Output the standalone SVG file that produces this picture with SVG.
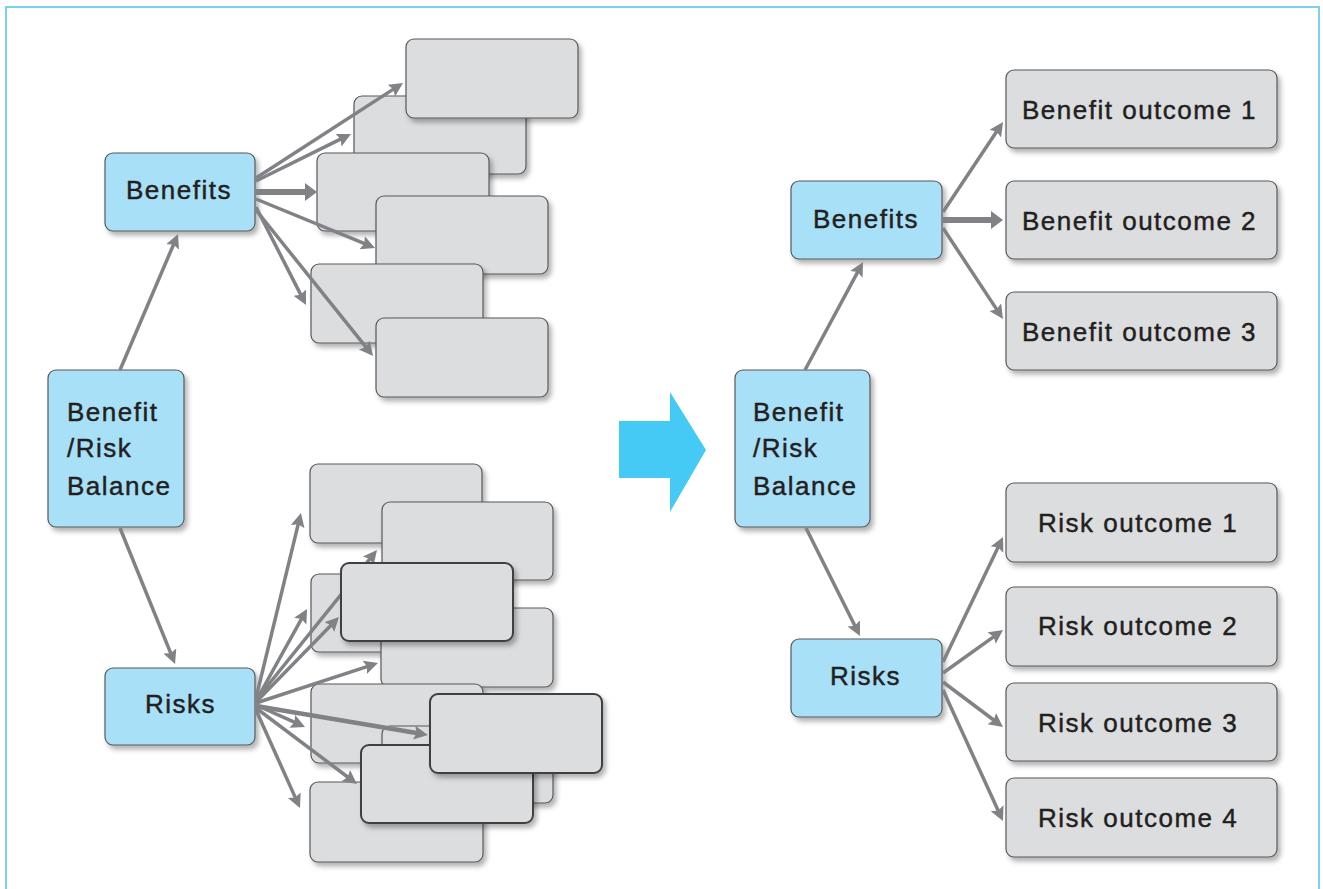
<svg xmlns="http://www.w3.org/2000/svg" width="1323" height="889" viewBox="0 0 1323 889">
<defs>
<filter id="sh" x="-10%" y="-10%" width="130%" height="140%">
<feDropShadow dx="3" dy="4" stdDeviation="2.5" flood-color="#000" flood-opacity="0.3"/>
</filter>
<marker id="ah" markerUnits="userSpaceOnUse" markerWidth="16" markerHeight="16" viewBox="0 0 16 16" refX="4" refY="7" orient="auto">
<path d="M0,0 L14,7 L0,14 L2.5,7 Z" fill="#808285"/>
</marker>
<marker id="ahT" markerUnits="userSpaceOnUse" markerWidth="14" markerHeight="20" viewBox="0 0 14 20" refX="2" refY="9" orient="auto">
<path d="M0,0 L12,9 L0,18 Z" fill="#808285"/>
</marker>
</defs>
<style>
.frame{fill:none;stroke:#4cc4ee;stroke-width:1.5}
.blue{fill:#a8e0f8;stroke:#58595b;stroke-width:1.2;filter:url(#sh)}
.gray{fill:#dcdddf;stroke:#58595b;stroke-width:1.2;filter:url(#sh)}
.front{fill:#dcdddf;stroke:#404042;stroke-width:2;filter:url(#sh)}
.c{stroke:#808285;stroke-width:3.5;fill:none;marker-end:url(#ah)}
.ct{stroke:#808285;stroke-width:6;fill:none;marker-end:url(#ahT)}
text{font-family:"Liberation Sans",Arial,sans-serif;font-size:26px;letter-spacing:1.5px;fill:#231f20;stroke:#231f20;stroke-width:0.45px}
</style>
<path class="frame" d="M6,895 V7 H1319 V895"/>
<polygon id="transition-arrow" points="619,421 670,421 670,392 706,450 670,512 670,478 619,478" fill="#45c9f5"/>
<g id="left-upper-boxes">
<rect class="gray" x="354" y="96" width="172" height="78" rx="8"/>
<rect class="gray" x="406" y="39" width="172" height="79" rx="8"/>
<rect class="gray" x="317" y="153" width="172" height="78" rx="8"/>
<rect class="gray" x="376" y="196" width="172" height="78" rx="8"/>
<rect class="gray" x="311" y="264" width="172" height="79" rx="8"/>
<rect class="gray" x="376" y="318" width="172" height="79" rx="8"/>
</g>
<g id="left-lower-boxes">
<rect class="gray" x="310" y="464" width="172" height="79" rx="8"/>
<rect class="gray" x="382" y="502" width="171" height="78" rx="8"/>
<rect class="gray" x="311" y="574" width="172" height="78" rx="8"/>
<rect class="gray" x="381" y="608" width="172" height="79" rx="8"/>
<rect class="gray" x="311" y="684" width="172" height="79" rx="8"/>
<rect class="gray" x="382" y="726" width="171" height="77" rx="8"/>
<rect class="gray" x="310" y="782" width="173" height="80" rx="8"/>
</g>
<g id="left-brb">
<rect class="blue" x="48" y="370" width="136" height="157" rx="8"/>
<text x="67" y="421">Benefit</text>
<text x="67" y="457">/Risk</text>
<text x="67" y="495">Balance</text>
</g>
<g id="left-benefits">
<rect class="blue" x="105" y="153" width="150" height="78" rx="8"/>
<text x="126" y="199">Benefits</text>
</g>
<g id="left-risks">
<rect class="blue" x="105" y="668" width="150" height="77" rx="8"/>
<text x="145" y="713">Risks</text>
</g>
<g id="right-brb">
<rect class="blue" x="735" y="370" width="135" height="157" rx="8"/>
<text x="753" y="421">Benefit</text>
<text x="753" y="457">/Risk</text>
<text x="753" y="495">Balance</text>
</g>
<g id="right-benefits">
<rect class="blue" x="791" y="181" width="151" height="78" rx="8"/>
<text x="813" y="228">Benefits</text>
</g>
<g id="right-risks">
<rect class="blue" x="791" y="639" width="151" height="78" rx="8"/>
<text x="830" y="685">Risks</text>
</g>
<g id="benefit-outcome-1"><rect class="gray" x="1006" y="70" width="271" height="78" rx="8"/><text x="1022" y="119">Benefit outcome 1</text></g>
<g id="benefit-outcome-2"><rect class="gray" x="1006" y="181" width="271" height="78" rx="8"/><text x="1022" y="230">Benefit outcome 2</text></g>
<g id="benefit-outcome-3"><rect class="gray" x="1006" y="292" width="271" height="78" rx="8"/><text x="1022" y="341">Benefit outcome 3</text></g>
<g id="risk-outcome-1"><rect class="gray" x="1006" y="483" width="271" height="79" rx="8"/><text x="1038" y="532">Risk outcome 1</text></g>
<g id="risk-outcome-2"><rect class="gray" x="1006" y="587" width="271" height="79" rx="8"/><text x="1038" y="635">Risk outcome 2</text></g>
<g id="risk-outcome-3"><rect class="gray" x="1006" y="683" width="271" height="78" rx="8"/><text x="1038" y="732">Risk outcome 3</text></g>
<g id="risk-outcome-4"><rect class="gray" x="1006" y="778" width="271" height="79" rx="8"/><text x="1038" y="827">Risk outcome 4</text></g>
<g id="connectors">
<line class="c" x1="120" y1="370" x2="174.1" y2="243.2"/>
<line class="c" x1="120" y1="528" x2="171.3" y2="654.7"/>
<line class="c" x1="256" y1="178" x2="394.6" y2="88.4"/>
<line class="c" x1="256" y1="181" x2="342" y2="138.4"/>
<line class="ct" x1="256" y1="192" x2="307" y2="192"/>
<line class="c" x1="256" y1="199" x2="365.8" y2="244.2"/>
<line class="c" x1="256" y1="207" x2="301.5" y2="296.1"/>
<line class="c" x1="256" y1="210" x2="366.8" y2="348.2"/>
<line class="c" x1="256" y1="698" x2="298.6" y2="522.7"/>
<line class="c" x1="256" y1="700" x2="370.7" y2="557.8"/>
<line class="c" x1="256" y1="701" x2="302.2" y2="617.7"/>
<line class="c" x1="256" y1="702" x2="332" y2="624.2"/>
<line class="c" x1="256" y1="703" x2="368.5" y2="666.1"/>
<line class="c" x1="256" y1="705" x2="295.9" y2="722.9"/>
<line class="c" x1="256" y1="706" x2="418.1" y2="733.3" style="stroke-width:4.5"/>
<line class="c" x1="256" y1="708" x2="349" y2="778"/>
<line class="c" x1="256" y1="710" x2="295.9" y2="798.9"/>
<line class="c" x1="805" y1="370" x2="858.3" y2="270.8"/>
<line class="c" x1="806" y1="528" x2="855.5" y2="627"/>
<line class="c" x1="943" y1="212" x2="997.5" y2="130.3"/>
<line class="ct" x1="943" y1="220" x2="993" y2="220"/>
<line class="c" x1="943" y1="228" x2="997.5" y2="310.6"/>
<line class="c" x1="943" y1="662" x2="998.7" y2="546"/>
<line class="c" x1="943" y1="673" x2="994.9" y2="635.8"/>
<line class="c" x1="943" y1="682" x2="995" y2="721"/>
<line class="c" x1="943" y1="690" x2="998.8" y2="811.9"/>
</g>
<g id="left-lower-front-boxes">
<rect class="front" x="341" y="563" width="172" height="78" rx="8"/>
<rect class="front" x="361" y="745" width="172" height="78" rx="8"/>
<rect class="front" x="430" y="694" width="172" height="79" rx="8"/>
</g>
</svg>
